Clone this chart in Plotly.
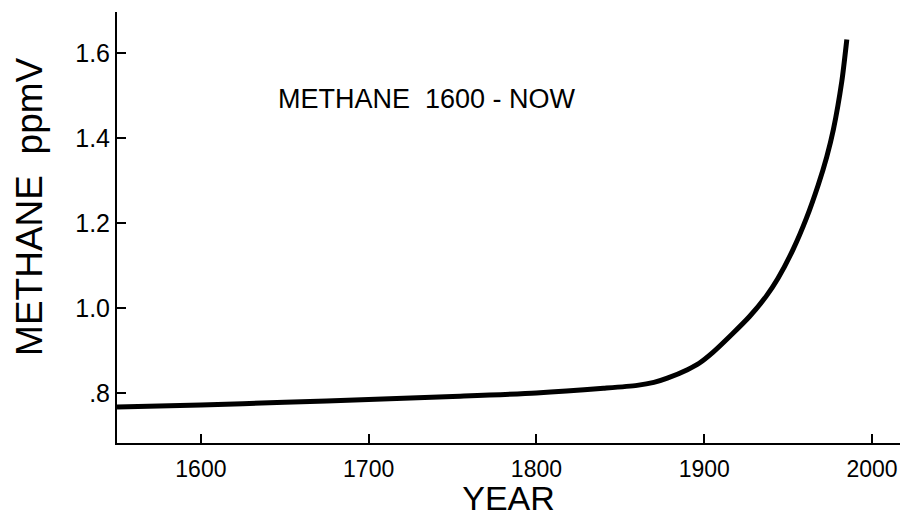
import plotly.graph_objects as go

years = [1550, 1600, 1650, 1700, 1750, 1800, 1840, 1860, 1870, 1878, 1890, 1897, 1905, 1917,
         1927, 1937, 1944, 1953, 1961, 1968, 1973, 1977, 1982, 1985]
methane = [0.767, 0.772, 0.778, 0.785, 0.792, 0.800, 0.811, 0.818, 0.825, 0.835, 0.855, 0.870,
           0.895, 0.940, 0.980, 1.028, 1.070, 1.138, 1.212, 1.290, 1.355, 1.420, 1.533, 1.632]

x_ticks = [1600, 1700, 1800, 1900, 2000]
x_ticktext = ["1600", "1700", "1800", "1900", "2000"]
y_ticks = [0.8, 1.0, 1.2, 1.4, 1.6]
y_ticktext = [".8", "1.0", "1.2", "1.4", "1.6"]

font = "Liberation Sans, Arial, sans-serif"

fig = go.Figure()
fig.add_trace(go.Scatter(x=years, y=methane, mode="lines",
                         line=dict(color="black", width=5, shape="spline", smoothing=0.7),
                         showlegend=False, hoverinfo="skip"))

# page body has an 8px default margin, so the figure is sized 914x509
fig.update_layout(
    width=914, height=509,
    margin=dict(l=109, r=22, t=4, b=74),
    paper_bgcolor="white", plot_bgcolor="white",
    font=dict(family=font, color="black"),
    xaxis=dict(range=[1550, 2016.7], tickvals=x_ticks, ticktext=x_ticktext, automargin=False,
               showgrid=False, zeroline=False, showline=True, linecolor="black", linewidth=2,
               ticks="inside", ticklen=9, tickwidth=2, tickcolor="black", ticklabelstandoff=4,
               tickfont=dict(size=23, family=font),
               title=dict(text="YEAR", font=dict(size=34, family=font), standoff=6)),
    yaxis=dict(range=[0.6824, 1.6965], tickvals=y_ticks, ticktext=y_ticktext, automargin=False,
               showgrid=False, zeroline=False, showline=True, linecolor="black", linewidth=2,
               ticks="inside", ticklen=9, tickwidth=2, tickcolor="black",
               tickfont=dict(size=25, family=font)),
    annotations=[
        dict(text="METHANE  1600 - NOW", x=1735, y=1.492, xref="x", yref="y",
             showarrow=False, font=dict(size=27, family=font, color="black")),
        dict(text="METHANE  ppmV", x=-0.111, y=0.548, xref="paper", yref="paper",
             textangle=-90, showarrow=False, xanchor="center", yanchor="middle",
             font=dict(size=37, family=font, color="black")),
    ],
)

fig.write_html("out.html")
